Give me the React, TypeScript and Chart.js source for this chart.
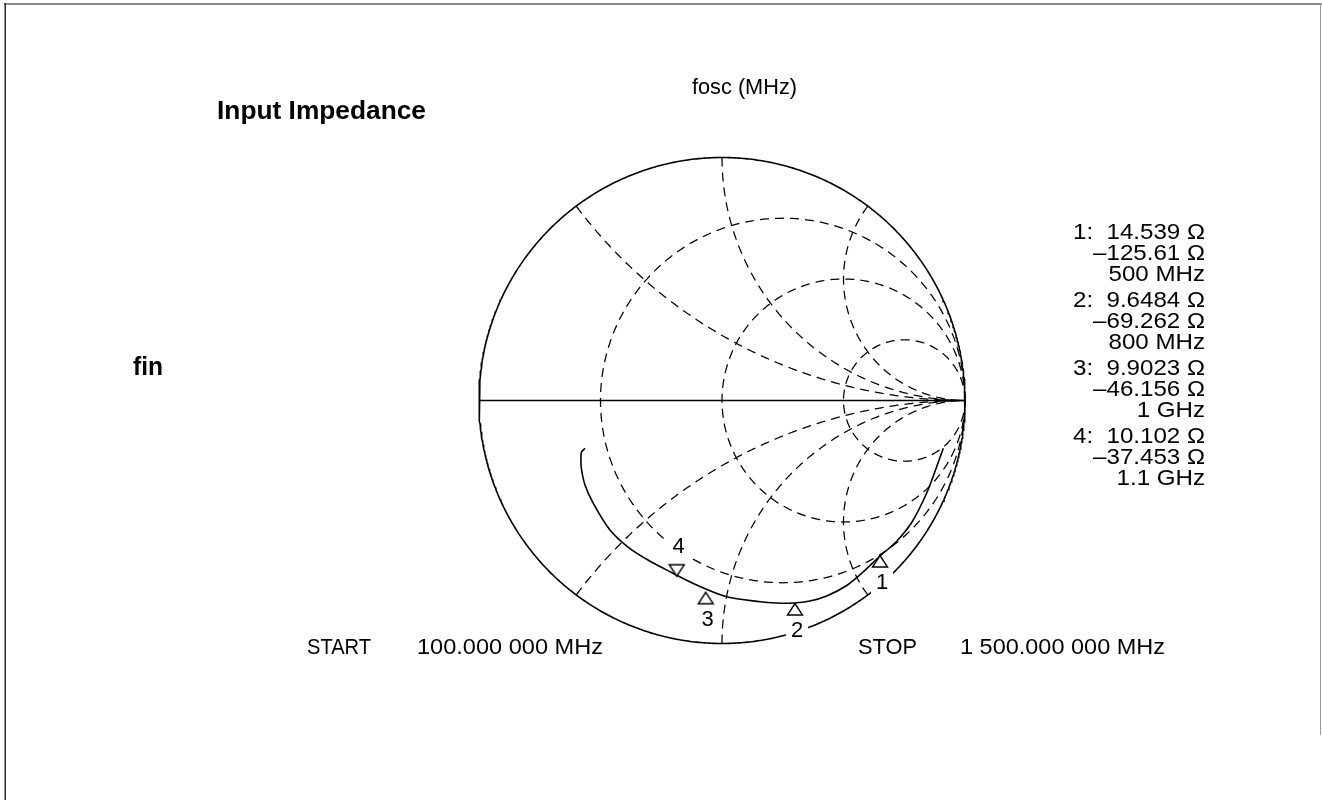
import React, { useEffect, useRef } from 'react';
import { Chart, registerables } from 'chart.js';

Chart.register(...registerables);

// ---- Smith chart grid values (normalized to Z0 = 50 ohm) ----
const resistanceValues = [0.3333, 1, 3];
const reactanceValues = [0.5, 1, 2, -0.5, -1, -2];

// ---- fin input impedance trace, reflection coefficient ----
const traceRe = [
  0.9107, 0.8835, 0.8424, 0.7819, 0.716, 0.6502, 0.5761, 0.5132, 0.4309, 0.3621,
  0.2934, 0.2222, 0.1564, 0.0193, -0.1041, -0.214, -0.3045, -0.3868, -0.4609, -0.5296,
  -0.5638, -0.5794, -0.5802, -0.5774, -0.5638,
];
const traceIm = [
  -0.1967, -0.2724, -0.3807, -0.5, -0.5823, -0.6399, -0.7099, -0.7613, -0.8045, -0.8251,
  -0.8333, -0.8333, -0.828, -0.8074, -0.7593, -0.7045, -0.6564, -0.6029, -0.5329, -0.423,
  -0.3477, -0.2737, -0.2243, -0.2107, -0.1967,
];

// ---- markers ----
const markerIds = ['1', '2', '3', '4'];
const markerRe = [0.6502, 0.3004, -0.0671, -0.1864];
const markerIm = [-0.6358, -0.8333, -0.7868, -0.7251];
const markerDir = ['up', 'up', 'up', 'down'];
const markerResistance = ['14.539', '9.6484', '9.9023', '10.102'];
const markerReactance = ['–125.61', '–69.262', '–46.156', '–37.453'];
const markerFreq = ['500 MHz', '800 MHz', '1 GHz', '1.1 GHz'];

// ---- texts ----
const chartTitle = 'Input Impedance';
const topLabel = 'fosc (MHz)';
const sideLabel = 'fin';
const startLabel = 'START';
const startFreq = '100.000 000 MHz';
const stopLabel = 'STOP';
const stopFreq = '1 500.000 000 MHz';

const FONT = '"Liberation Sans", Arial, Helvetica, sans-serif';

function circlePoints(cx: number, cy: number, rad: number, a0: number, a1: number, n: number) {
  const pts: { x: number; y: number }[] = [];
  for (let i = 0; i <= n; i++) {
    const a = a0 + ((a1 - a0) * i) / n;
    pts.push({ x: cx + rad * Math.cos(a), y: cy + rad * Math.sin(a) });
  }
  return pts;
}

function resistanceCircle(r: number) {
  return circlePoints(r / (1 + r), 0, 1 / (1 + r), 0, Math.PI * 2, 360);
}

function reactanceArc(x: number) {
  const ax = Math.abs(x);
  const rad = 1 / ax;
  const bx = -2 / (ax * ax + 1);
  const by = (ax * ax - 1) / (ax * (ax * ax + 1));
  let thB = Math.atan2(by, bx);
  if (thB > -Math.PI / 2) thB -= Math.PI * 2;
  const pts = circlePoints(1, rad, rad, -Math.PI / 2, thB, 300).reverse();
  return x < 0 ? pts.map((p) => ({ x: p.x, y: -p.y })) : pts;
}

function makeTriangle(dir: string) {
  const c = document.createElement('canvas');
  c.width = 20;
  c.height = 32;
  const ctx = c.getContext('2d')!;
  ctx.lineWidth = 1.4;
  ctx.strokeStyle = '#000';
  ctx.fillStyle = '#fff';
  ctx.beginPath();
  if (dir === 'up') {
    ctx.moveTo(10, 16.5);
    ctx.lineTo(2.5, 28);
    ctx.lineTo(17.5, 28);
  } else {
    ctx.moveTo(10, 15.5);
    ctx.lineTo(2.5, 4);
    ctx.lineTo(17.5, 4);
  }
  ctx.closePath();
  ctx.fill();
  ctx.stroke();
  return c;
}

function fitText(ctx: CanvasRenderingContext2D, text: string, x: number, y: number, align: CanvasTextAlign, width: number) {
  const m = ctx.measureText(text).width;
  const s = width / m;
  ctx.save();
  ctx.translate(x, y);
  ctx.scale(s, 1);
  ctx.textAlign = align;
  ctx.fillText(text, 0, 0);
  ctx.restore();
}

export default function App() {
  const ref = useRef<HTMLCanvasElement | null>(null);

  useEffect(() => {
    if (!ref.current) return;

    const W = 1322;
    const H = 800;
    const cxPx = 722;
    const cyPx = 400.5;
    const R = 243;

    const xMin = -cxPx / R;
    const xMax = (W - cxPx) / R;
    const yMax = cyPx / R;
    const yMin = -(H - cyPx) / R;

    const tri = markerDir.map((d) => makeTriangle(d));

    const gridSets = [
      ...resistanceValues.map((r) => ({ data: resistanceCircle(r) })),
      ...reactanceValues.map((x) => ({ data: reactanceArc(x) })),
    ].map((d) => ({
      ...d,
      showLine: true,
      borderColor: '#000',
      borderWidth: 1.25,
      borderDash: [9, 6],
      pointRadius: 0,
      tension: 0,
      order: 10,
    }));

    const labelsPlugin = {
      id: 'smithText',
      beforeDraw(chart: any) {
        const ctx = chart.ctx;
        ctx.save();
        ctx.fillStyle = '#fff';
        ctx.fillRect(0, 0, W, H);
        ctx.restore();
      },
      afterDatasetsDraw(chart: any) {
        const ctx = chart.ctx;
        const xs = chart.scales.x;
        const ys = chart.scales.y;
        ctx.save();
        ctx.font = `22px ${FONT}`;
        ctx.textAlign = 'center';
        ctx.textBaseline = 'middle';
        markerIds.forEach((id, i) => {
          const px = xs.getPixelForValue(markerRe[i]) + 2;
          const py = ys.getPixelForValue(markerIm[i]) + (markerDir[i] === 'up' ? 28 : -30);
          const w = ctx.measureText(id).width;
          ctx.fillStyle = '#fff';
          ctx.fillRect(px - w / 2 - 5, py - 11, w + 10, 22);
          ctx.fillStyle = '#000';
          ctx.fillText(id, px, py);
        });
        ctx.restore();
      },
      afterDraw(chart: any) {
        const ctx = chart.ctx as CanvasRenderingContext2D;
        ctx.save();
        // frame
        ctx.strokeStyle = '#8a8a8a';
        ctx.lineWidth = 2;
        ctx.beginPath();
        ctx.moveTo(4, 4);
        ctx.lineTo(W, 4);
        ctx.stroke();
        ctx.strokeStyle = '#2a2a2a';
        ctx.lineWidth = 1.5;
        ctx.beginPath();
        ctx.moveTo(5.25, 3);
        ctx.lineTo(5.25, H);
        ctx.stroke();
        ctx.strokeStyle = '#9a9a9a';
        ctx.lineWidth = 1;
        ctx.beginPath();
        ctx.moveTo(1320.5, 3);
        ctx.lineTo(1320.5, 735);
        ctx.stroke();

        ctx.fillStyle = '#000';
        ctx.textBaseline = 'middle';

        ctx.font = `bold 26px ${FONT}`;
        fitText(ctx, chartTitle, 217, 112, 'left', 209);
        ctx.font = `bold 25px ${FONT}`;
        fitText(ctx, sideLabel, 133, 368, 'left', 30);

        ctx.font = `22px ${FONT}`;
        fitText(ctx, topLabel, 744.5, 88, 'center', 105);
        fitText(ctx, startLabel, 307, 648, 'left', 64);
        fitText(ctx, startFreq, 417, 648, 'left', 186);
        fitText(ctx, stopLabel, 858, 648, 'left', 59);
        fitText(ctx, stopFreq, 960, 648, 'left', 205);

        ctx.font = `22.5px ${FONT}`;
        const first = `${markerIds[0]}:  ${markerResistance[0]} Ω`;
        const s = 132 / ctx.measureText(first).width;
        markerIds.forEach((id, i) => {
          const y0 = 232.5 + i * 68;
          const lines = [`${id}:  ${markerResistance[i]} Ω`, `${markerReactance[i]} Ω`, markerFreq[i]];
          lines.forEach((t, k) => {
            fitText(ctx, t, 1205, y0 + k * 21, 'right', ctx.measureText(t).width * s);
          });
        });
        ctx.restore();
      },
    };

    const chart = new Chart(ref.current, {
      type: 'scatter',
      data: {
        datasets: [
          {
            data: markerRe.map((x, i) => ({ x, y: markerIm[i] })),
            showLine: false,
            pointStyle: tri as any,
            pointRadius: 8,
            order: 0,
          },
          {
            data: traceRe.map((x, i) => ({ x, y: traceIm[i] })),
            showLine: true,
            borderColor: '#000',
            borderWidth: 1.6,
            pointRadius: 0,
            tension: 0.3,
            order: 1,
          },
          {
            data: circlePoints(0, 0, 1, 0, Math.PI * 2, 720),
            showLine: true,
            borderColor: '#000',
            borderWidth: 1.6,
            pointRadius: 0,
            tension: 0,
            order: 2,
          },
          {
            data: [
              { x: -1, y: 0 },
              { x: 1, y: 0 },
            ],
            showLine: true,
            borderColor: '#000',
            borderWidth: 1.5,
            pointRadius: 0,
            order: 3,
          },
          ...gridSets,
        ] as any,
      },
      options: {
        animation: false,
        responsive: false,
        maintainAspectRatio: false,
        devicePixelRatio: 1,
        layout: { padding: 0, autoPadding: false },
        scales: {
          x: { type: 'linear', min: xMin, max: xMax, display: false },
          y: { type: 'linear', min: yMin, max: yMax, display: false },
        },
        plugins: {
          legend: { display: false },
          tooltip: { enabled: false },
        },
        events: [],
      },
      plugins: [labelsPlugin],
    });

    return () => chart.destroy();
  }, []);

  return (
    <div style={{ position: 'fixed', left: 0, top: 0, width: 1322, height: 800, background: '#fff' }}>
      <canvas ref={ref} width={1322} height={800} style={{ display: 'block' }} />
    </div>
  );
}
